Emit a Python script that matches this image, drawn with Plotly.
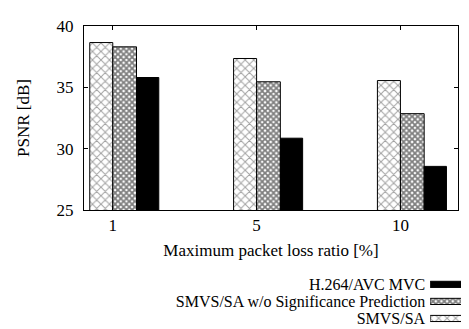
import plotly.graph_objects as go

categories = ["1", "5", "10"]
smvs_sa = [38.65, 37.35, 35.55]
smvs_wo = [38.3, 35.45, 32.85]
h264 = [35.8, 30.85, 28.55]
series_names = ["H.264/AVC MVC", "SMVS/SA w/o Significance Prediction", "SMVS/SA"]

xpos = list(range(len(categories)))
font = "Liberation Serif, Times New Roman, serif"
fs = 17

styles = {
    "SMVS/SA": dict(color="white", line=dict(color="black", width=1),
                    pattern=dict(shape="x", fgcolor="#444444", bgcolor="white", size=6, solidity=0.3)),
    "SMVS/SA w/o Significance Prediction": dict(color="white", line=dict(color="black", width=1),
                    pattern=dict(shape="x", fgcolor="black", bgcolor="white", size=4, solidity=0.7)),
    "H.264/AVC MVC": dict(color="black", line=dict(color="black", width=1)),
}

fig = go.Figure()
fig.add_trace(go.Bar(x=xpos, y=smvs_sa, name="SMVS/SA", width=0.16, offset=-0.16,
                     marker=styles["SMVS/SA"], showlegend=False))
fig.add_trace(go.Bar(x=xpos, y=smvs_wo, name="SMVS/SA w/o Significance Prediction", width=0.165, offset=0.0,
                     marker=styles["SMVS/SA w/o Significance Prediction"], showlegend=False))
fig.add_trace(go.Bar(x=xpos, y=h264, name="H.264/AVC MVC", width=0.155, offset=0.165,
                     marker=styles["H.264/AVC MVC"], showlegend=False))

# legend keys (text left of swatch, as in the reference)
for nm in series_names:
    fig.add_trace(go.Bar(x=[1], y=[nm], orientation="h", width=0.36, xaxis="x2", yaxis="y2",
                         marker=styles[nm], showlegend=False, hoverinfo="skip"))

fig.update_layout(
    width=469, height=329,
    margin=dict(l=76, r=1, t=18, b=0),
    plot_bgcolor="white", paper_bgcolor="white",
    font=dict(family=font, size=fs, color="black"),
    barmode="overlay",
    showlegend=False,
    xaxis=dict(domain=[0, 0.954], anchor="y",
               range=[-0.2, 2.4], tickmode="array", tickvals=xpos, ticktext=categories,
               showline=True, linecolor="black", linewidth=1, mirror="ticks",
               ticks="inside", ticklen=4, tickcolor="black", showgrid=False, zeroline=False,
               tickfont=dict(family=font, size=fs),
               title=dict(text="Maximum packet loss ratio [%]", standoff=9, font=dict(family=font, size=fs))),
    yaxis=dict(domain=[0.389, 1], anchor="x",
               range=[25, 40], tickvals=[25, 30, 35, 40],
               showline=True, linecolor="black", linewidth=1, mirror="ticks",
               ticks="inside", ticklen=4, tickcolor="black", showgrid=False, zeroline=False,
               tickfont=dict(family=font, size=fs), ticklabelstandoff=6,
               title=dict(text="PSNR [dB]", standoff=22, font=dict(family=font, size=fs))),
    xaxis2=dict(domain=[0.883, 1], anchor="y2", range=[0, 1], visible=False, fixedrange=True),
    yaxis2=dict(domain=[0, 0.170], anchor="x2", type="category", categoryorder="array",
                categoryarray=series_names, tickmode="array", tickvals=series_names,
                range=[2.5, -0.5],
                showline=False, showgrid=False, zeroline=False, ticks="", ticklabelstandoff=4,
                tickfont=dict(family=font, size=16), fixedrange=True),
)

fig.write_html("out.html")
